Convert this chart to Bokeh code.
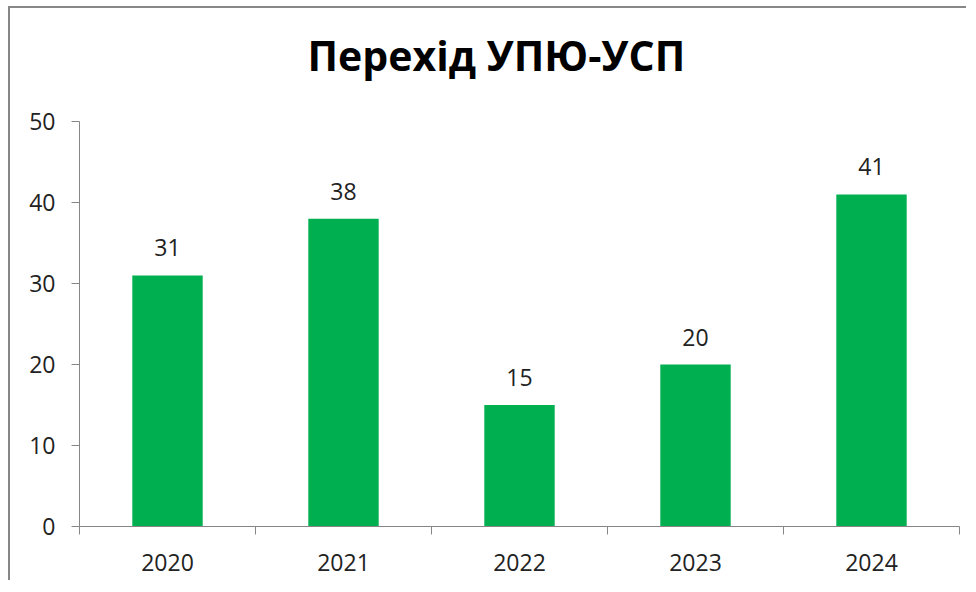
from bokeh.plotting import figure
from bokeh.models import Range1d, FixedTicker, ColumnDataSource, LabelSet, Title
from bokeh.core.properties import value
from bokeh.embed import file_html
from bokeh.resources import INLINE

# data
years = ["2020", "2021", "2022", "2023", "2024"]
values = [31, 38, 15, 20, 41]
y_ticks = [0, 10, 20, 30, 40, 50]
title_text = "Перехід УПЮ-УСП"

FONT = "Open Sans"
TEXT = "#222222"
AXIS = "#868686"
GREEN = "#00B050"

centers = [i + 0.5 for i in range(len(years))]
edges = list(range(len(years) + 1))

src = ColumnDataSource(dict(x=centers, top=values, lbl=[str(v) for v in values]))

p = figure(width=958, height=574, output_backend="svg", toolbar_location=None,
           x_range=Range1d(0, len(years)), y_range=Range1d(y_ticks[0], y_ticks[-1]),
           min_border_left=69, min_border_right=9, min_border_top=113, min_border_bottom=56)
p.margin = (6, 0, 0, 8)
p.styles = {"border-top": "2px solid #878787", "border-left": "2px solid #878787"}
p.outline_line_color = None
p.background_fill_color = "white"
p.border_fill_color = "white"
p.xgrid.grid_line_color = None
p.ygrid.grid_line_color = None

p.vbar(x="x", top="top", width=0.4, bottom=0, source=src, fill_color=GREEN, line_color=None)

labels = LabelSet(x="x", y="top", text="lbl", source=src, y_offset=19,
                  text_align="center", text_baseline="alphabetic",
                  text_font=value(FONT), text_font_size=value("23px"), text_color=value(TEXT))
p.add_layout(labels)

# x axis
xa = p.xaxis[0]
xa.ticker = FixedTicker(ticks=centers, minor_ticks=edges)
xa.major_label_overrides = {c: y for c, y in zip(centers, years)}
xa.major_tick_line_color = None
xa.major_tick_out = 0
xa.major_tick_in = 0
xa.minor_tick_out = 8
xa.minor_tick_in = 0
xa.minor_tick_line_color = AXIS
xa.axis_line_color = AXIS
xa.major_label_standoff = 19
xa.major_label_text_font = FONT
xa.major_label_text_font_size = "23px"
xa.major_label_text_color = TEXT

# y axis
ya = p.yaxis[0]
ya.ticker = FixedTicker(ticks=y_ticks)
ya.minor_tick_line_color = None
ya.major_tick_out = 8
ya.major_tick_in = 0
ya.major_tick_line_color = AXIS
ya.axis_line_color = AXIS
ya.major_label_standoff = 16
ya.major_label_text_font = FONT
ya.major_label_text_font_size = "23px"
ya.major_label_text_color = TEXT

# invisible spacer between frame and title
spacer = Title(text=" ", text_font=FONT, text_font_size="1px", standoff=34, text_color="white")
p.add_layout(spacer, "above")

p.title = Title(text=title_text, align="left", vertical_align="top",
                text_font=FONT, text_font_size="41px", text_font_style="bold",
                text_color="#000000", standoff=0, offset=228)

open("out.html", "w").write(file_html(p, INLINE))
